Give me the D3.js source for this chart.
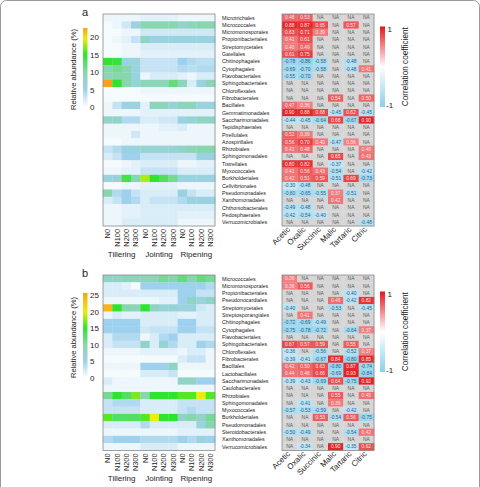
<!DOCTYPE html>
<html>
<head>
<meta charset="utf-8">
<script src="https://cdn.jsdelivr.net/npm/d3@7"></script>
<style>
  body { margin: 0; background: #fff; }
  svg { display: block; font-family: "Liberation Sans", Arial, sans-serif; }
</style>
</head>
<body>
<script>
// ---- data ----
const stages = ["Tillering", "Jointing", "Ripening"];
const treatments = ["N0", "N100", "N200", "N300"];
const acids = ["Acetic", "Oxalic", "Succinic", "Malic", "Tartaric", "Citric"];

const aOrders = ["Microtrichales","Micrococcales","Micromonosporales","Propionibacteriales","Streptomycetales","Gaiellales","Chitinophagales","Cytophagales","Flavobacteriales","Sphingobacteriales","Chloroflexales","Fibrobacterales","Bacillales","Gemmatimonadales","Saccharimonadales","Tepidisphaerales","Pirellulales","Azospirillales","Rhizobiales","Sphingomonadales","Tistrellales","Myxococcales","Burkholderiales","Cellvibrionales","Pseudomonadales","Xanthomonadales","Chthoniobacterales","Pedosphaerales","Verrucomicrobiales"];

const aAbundance = [
  [1,1,1,1,1.5,1.5,1.5,1.5,1,1,1,1],
  [0.5,1,2.5,6,10,10,10,10,8,9,10,10],
  [0.5,0.5,1,1,2.5,2.5,2.5,2.5,2.5,2.5,2.5,2.5],
  [0.5,1,1.5,3,8,6,6,6,6,6,6,6],
  [0.5,0.5,1,1,2,2,2,2,2,2,2,2],
  [0.5,0.5,1,1,1.5,1.5,1.5,1.5,1.5,1.5,1.5,1.5],
  [15,14.5,6,6,3,3,3,3,5,4,3.5,3.5],
  [10,11,10,6,3,3,3,3,4,3.5,4,4],
  [9,10,10,6,1,2,2,2,1.5,1,2,2],
  [23,15,10,7,9,9,9,12,9,2,6,9],
  [0.5,0.5,0.5,0.5,1,1,1,1,1,1,1,1],
  [0.5,0.5,0.5,0.5,0.5,0.5,0.5,0.5,0.5,0.5,0.5,0.5],
  [1,3,6,6,1.5,9,9,7,9,9,6,6],
  [1,1,1,1,1.5,1.5,1.5,1.5,1.5,1.5,1.5,1.5],
  [8,8,4,4,2,2,2.5,2.5,6,7,8,8],
  [1,1,1,1,1,1,1.5,1.5,2,1,1,1],
  [1,1,1,2.5,1,1,1,1,1,1,1,1],
  [0.5,0.5,1,1,1,1,1,1,1,1,1,1],
  [3,4,6,6,7,7,7,7,8,9,10,10],
  [2,3,5,5,3,3,3,3,3,3,6,6],
  [0.5,0.5,1,1.5,2,2,2,2,1,1,1.5,1.5],
  [1,1,1.5,1.5,3,3,3,3,2,2,2,2],
  [6,7,14,10,18,15,13,11,6,6,6,6],
  [0.5,0.5,1,1,1.5,1.5,1.5,1.5,1,1,1,1],
  [10,4,5,3,2,2,2,2,6,3,2,2],
  [2,3,5,4,2,3,3,3,4,6,6,6],
  [1,1,1.5,1.5,2,2,2,2,2,2,2,2],
  [1,1,1.5,1.5,2,2,2,2,1.5,1.5,1.5,1.5],
  [1,1,2,2,2,2,2,2,1,1,1,1]
];

const aCorr = [
  [0.48,0.53,null,null,null,null],
  [0.88,0.87,0.65,null,0.57,null],
  [0.63,0.71,0.39,null,null,null],
  [0.41,0.61,null,null,null,null],
  [0.40,0.49,null,null,null,null],
  [0.61,0.75,null,null,null,null],
  [-0.78,-0.86,-0.58,null,-0.48,null],
  [-0.69,-0.70,-0.58,null,-0.48,0.41],
  [-0.55,-0.70,null,null,null,null],
  [null,null,null,null,null,null],
  [null,null,null,null,null,null],
  [null,null,null,0.54,null,0.50],
  [0.47,0.36,null,null,null,null],
  [0.90,0.88,0.68,-0.45,0.62,-0.45],
  [-0.44,-0.45,-0.64,0.68,-0.67,0.90],
  [null,null,null,null,null,null],
  [0.52,0.39,null,null,null,null],
  [0.56,0.70,0.40,-0.47,0.36,null],
  [0.42,0.48,null,null,null,0.40],
  [null,null,null,0.65,null,0.43],
  [0.80,0.82,null,-0.37,null,null],
  [0.41,0.56,0.43,-0.54,null,-0.42],
  [0.42,0.51,0.59,-0.51,0.69,-0.73],
  [-0.30,-0.48,null,null,null,null],
  [-0.60,-0.65,-0.55,0.37,-0.51,null],
  [null,null,null,0.42,null,null],
  [-0.49,-0.48,null,null,null,null],
  [-0.42,-0.54,-0.40,null,null,null],
  [null,null,null,null,null,-0.48]
];

const bOrders = ["Micrococcales","Micromonosporales","Propionibacteriales","Pseudonocardiales","Streptomycetales","Streptosporangiales","Chitinophagales","Cytophagales","Flavobacteriales","Sphingobacteriales","Chloroflexales","Fibrobacterales","Bacillales","Lactobacillales","Saccharimonadales","Caulobacterales","Rhizobiales","Sphingomonadales","Myxococcales","Burkholderiales","Pseudomonadales","Steroidobacterales","Xanthomonadales","Verrucomicrobiales"];

const bAbundance = [
  [8,8,9,9,9,9,11,10,12,10,12,11],
  [2,2,1.5,0.5,5,5,5,5,5,5,5,4],
  [2,2,2,2,2,2,2,2,5,5,3,3],
  [1,1,1,1,1,1,1.5,1.5,5,8,6,8],
  [24,15,10,9,15,8,7,7,6,6,2.5,2],
  [1,2,1.5,1.5,2,2,2,2,1.5,1.5,2,2],
  [5,5,5,5,2,2,2,2,5,5,2,2],
  [5,5,5,5,2.5,3,3,3,5,5,3,3],
  [2,4,4,4,1,2,4,5,2,2,2,2],
  [2,3,3,3,8,2,7,4,2,2,5,4],
  [1,1,1,1,1.5,1.5,1.5,1.5,1,2,2,1],
  [0.5,0.5,0.5,0.5,0.5,0.5,0.5,0.5,2,3,3,1],
  [1,1,1,1,5,5,5,8,1,1,1,1],
  [0.5,0.5,0.5,0.5,2,2,2,3,0.5,0.5,0.5,0.5],
  [2,1,1,1,1,1,1,1,8,8,5,5],
  [1,1,1,1,1,1,1,1,1,1,1,1],
  [11,15,13,17,10,15,15,15,16,16,20,16],
  [3,4,4,4,2,2,2,2,3,3,3,3],
  [3,3,3,3,2,2,2,2,3,4,3,3],
  [16,13,13,13,16,20,15,15,8,10,8,11],
  [2,2,2,2,4,2,2,2,2,2,6,10],
  [1,1,1,1,1,1,1,1,1.5,1.5,1.5,1.5],
  [4,5,5,5,4,4,4,4,5,4,6,5],
  [1,1,1,1,2,2,2,2,1,1,1,1]
];

const bCorr = [
  [0.36,null,null,null,null,null],
  [0.36,0.56,null,null,null,null],
  [null,null,null,null,-0.40,null],
  [null,null,null,0.46,-0.42,0.82],
  [-0.40,null,null,-0.53,null,-0.45],
  [null,0.41,null,null,null,null],
  [-0.72,-0.69,-0.49,null,null,null],
  [-0.75,-0.78,-0.72,null,-0.64,0.37],
  [null,null,null,null,null,null],
  [0.67,0.57,0.59,null,0.55,null],
  [-0.36,null,-0.56,null,-0.52,0.37],
  [-0.39,-0.41,-0.67,0.84,-0.80,0.85],
  [0.42,0.50,0.63,-0.80,0.87,-0.74],
  [0.44,0.46,0.66,-0.69,0.93,-0.84],
  [-0.39,-0.43,-0.69,0.64,-0.75,0.92],
  [null,null,null,null,null,null],
  [null,null,null,0.55,null,0.45],
  [null,-0.41,null,0.39,null,null],
  [-0.57,-0.53,-0.59,null,-0.42,null],
  [null,null,0.53,-0.54,0.56,-0.75],
  [null,null,null,null,null,null],
  [-0.50,-0.49,null,null,-0.54,0.42],
  [null,null,null,null,null,null],
  [null,-0.34,null,0.90,-0.35,0.62]
];

const aTicks = [0, 5, 10, 15, 20];
const bTicks = [0, 5, 10, 15, 20, 25];

// ---- drawing ----
const W = 480, H = 487;
const svg = d3.select("body").append("svg").attr("width", W).attr("height", H);
const defs = svg.append("defs");

svg.append("rect")
  .attr("x", 0.5).attr("y", 0.5).attr("width", W - 1).attr("height", H + 10)
  .attr("rx", 6).attr("fill", "none").attr("stroke", "#9a9a9a");

const corrBase = d3.scaleLinear().domain([-1, 0, 1]).range(["#8ccfea", "#ffffff", "#e3171b"]);
// cells: stronger tint for moderate values, like the reference
const corrColor = v => corrBase(Math.sign(v) * Math.pow(Math.abs(v), 0.6));
const rowH = 7.31;

function drawPanel(id, letter, orders, abundance, corr, ticks, top, cbTop, cbMax) {
  const g = svg.append("g");
  const nRows = orders.length;
  const bottom = top + nRows * rowH;
  const columns = stages.flatMap(s => treatments.map(t => s + "|" + t));

  const x = d3.scaleBand().domain(columns).range([103, 215]);
  const y = d3.scaleBand().domain(orders).range([top, bottom]);

  // colour scale for abundance
  const stopVals = cbMax > 24 ? [0, 5, 10, 15, 20, cbMax] : [0, 5, 10, 15, 19.5, cbMax];
  const stopCols = ["#ffffff", "#9ed1ed", "#88d6ae", "#2ee52e", "#ebec10", "#f7a21a"];
  const color = d3.scaleLinear().domain(stopVals).range(stopCols).clamp(true);

  g.append("text").attr("x", 82).attr("y", top + 1.5)
    .attr("font-size", 11).attr("fill", "#222").text(letter);

  // heatmap cells
  orders.forEach((o, i) => {
    g.selectAll(null).data(abundance[i]).join("rect")
      .attr("x", (d, j) => x(columns[j]))
      .attr("y", y(o))
      .attr("width", x.bandwidth() + 0.3)
      .attr("height", y.bandwidth() + 0.3)
      .attr("fill", d => color(d));
  });
  g.append("rect").attr("x", 103).attr("y", top).attr("width", 112).attr("height", bottom - top)
    .attr("fill", "none").attr("stroke", "#8a8a8a").attr("stroke-width", 0.8);

  // column labels
  g.selectAll(null).data(columns).join("text")
    .attr("transform", d => `translate(${x(d) + x.bandwidth() / 2 + 2.6},${bottom + 3}) rotate(-90)`)
    .attr("text-anchor", "end").attr("font-size", 7.4).attr("fill", "#222")
    .text(d => d.split("|")[1]);
  g.selectAll(null).data(stages).join("text")
    .attr("x", (d, k) => x(d + "|N0") + x.bandwidth() * 2)
    .attr("y", bottom + 31)
    .attr("text-anchor", "middle").attr("font-size", 8).attr("fill", "#222")
    .text(d => d);

  // abundance colour bar
  const cbBottom = cbTop + cbMax * (id === "a" ? 3.5 : 3.32);
  const cy = d3.scaleLinear().domain([0, cbMax]).range([cbBottom, cbTop]);
  const grad = defs.append("linearGradient").attr("id", "ab" + id)
    .attr("x1", 0).attr("y1", 1).attr("x2", 0).attr("y2", 0);
  stopVals.forEach((v, k) => grad.append("stop").attr("offset", v / cbMax).attr("stop-color", stopCols[k]));
  g.append("rect").attr("x", 83).attr("y", cbTop).attr("width", 4.5).attr("height", cbBottom - cbTop)
    .attr("fill", `url(#ab${id})`);
  const ax = g.append("g").attr("transform", "translate(87.5,0)")
    .call(d3.axisRight(cy).tickValues(ticks).tickSize(0).tickPadding(2.5));
  ax.select(".domain").remove();
  ax.selectAll("text").attr("font-size", 8).attr("fill", "#222").attr("font-family", "Liberation Sans, Arial");
  g.append("text")
    .attr("transform", `translate(76,${(cbTop + cbBottom) / 2 + 2}) rotate(-90)`)
    .attr("text-anchor", "middle").attr("font-size", 7.6).attr("fill", "#222")
    .text("Relative abundance (%)");

  // row labels
  g.selectAll(null).data(orders).join("text")
    .attr("x", 222).attr("y", d => y(d) + y.bandwidth() / 2 + 1.9)
    .attr("font-size", 5.3).attr("fill", "#222").text(d => d);

  // correlation grid
  const cx = d3.scaleBand().domain(acids).range([282, 374]);
  orders.forEach((o, i) => {
    const cells = g.selectAll(null).data(corr[i]).join("g")
      .attr("transform", (d, j) => `translate(${cx(acids[j])},${y(o)})`);
    cells.append("rect")
      .attr("width", cx.bandwidth() + 0.3).attr("height", y.bandwidth() + 0.3)
      .attr("fill", d => d === null ? "#d6d6d6" : corrColor(d));
    cells.append("text")
      .attr("x", cx.bandwidth() / 2).attr("y", y.bandwidth() / 2 + 1.7)
      .attr("text-anchor", "middle").attr("font-size", 4.9)
      .attr("fill", d => d === null ? "#5a5a5a" : d > 0 ? "#fde3e3" : "#2b5d86")
      .text(d => d === null ? "NA" : d.toFixed(2));
  });
  g.append("rect").attr("x", 282).attr("y", top).attr("width", 92).attr("height", bottom - top)
    .attr("fill", "none").attr("stroke", "#8a8a8a").attr("stroke-width", 0.8);
  g.selectAll(null).data(acids).join("text")
    .attr("transform", d => `translate(${cx(d) + cx.bandwidth() / 2 + 1},${bottom + 4}) rotate(-45)`)
    .attr("text-anchor", "end").attr("font-size", 8).attr("fill", "#222")
    .text(d => d);

  // correlation colour bar
  const ccTop = cbTop - 1.5, ccBottom = cbTop + 79;
  const cgrad = defs.append("linearGradient").attr("id", "cc" + id)
    .attr("x1", 0).attr("y1", 0).attr("x2", 0).attr("y2", 1);
  [[0, corrBase(1)], [0.5, corrBase(0)], [1, corrBase(-1)]].forEach(s =>
    cgrad.append("stop").attr("offset", s[0]).attr("stop-color", s[1]));
  g.append("rect").attr("x", 380).attr("y", ccTop).attr("width", 5).attr("height", ccBottom - ccTop)
    .attr("fill", `url(#cc${id})`);
  g.append("text").attr("x", 387.5).attr("y", ccTop + 5).attr("font-size", 8).attr("fill", "#222").text("1");
  g.append("text").attr("x", 386).attr("y", ccBottom + 1).attr("font-size", 8).attr("fill", "#222").text("-1");
  g.append("text")
    .attr("transform", `translate(408,${(ccTop + ccBottom) / 2}) rotate(-90)`)
    .attr("text-anchor", "middle").attr("font-size", 8.2).attr("fill", "#222")
    .text("Correlation coefficient");
}

drawPanel("a", "a", aOrders, aAbundance, aCorr, aTicks, 14, 28, 22.6);
drawPanel("b", "b", bOrders, bAbundance, bCorr, bTicks, 275, 293, 25.6);
</script>
</body>
</html>
